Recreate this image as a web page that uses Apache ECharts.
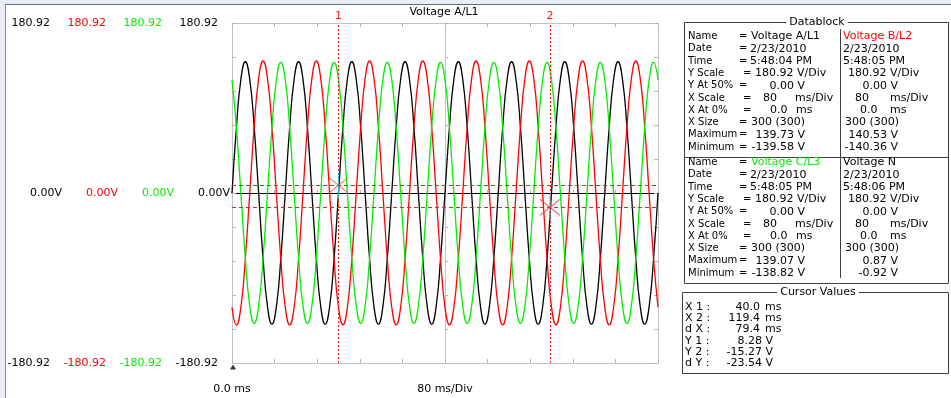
<!DOCTYPE html>
<html><head><meta charset="utf-8">
<script src="https://cdn.jsdelivr.net/npm/echarts@6/dist/echarts.min.js"></script>
<style>html,body{margin:0;padding:0;background:#fff;overflow:hidden}#c{width:951px;height:398px}</style>
</head><body><div id="c"></div>
<script>
// ---------------- data ----------------
const sampleStepMs = 160 / 96;           // spacing of the readings along the time axis
const voltageA = [
  0, 69.9, 121.0, 139.7, 121.0, 69.9, 0, -69.8, -120.9, -139.6, -120.9, -69.8,
  0, 69.9, 121.0, 139.7, 121.0, 69.9, 0, -69.8, -120.9, -139.6, -120.9, -69.8,
  0, 69.9, 121.0, 139.7, 121.0, 69.9, 0, -69.8, -120.9, -139.6, -120.9, -69.8,
  0, 69.9, 121.0, 139.7, 121.0, 69.9, 0, -69.8, -120.9, -139.6, -120.9, -69.8,
  0, 69.9, 121.0, 139.7, 121.0, 69.9, 0, -69.8, -120.9, -139.6, -120.9, -69.8,
  0, 69.9, 121.0, 139.7, 121.0, 69.9, 0, -69.8, -120.9, -139.6, -120.9, -69.8,
  0, 69.9, 121.0, 139.7, 121.0, 69.9, 0, -69.8, -120.9, -139.6, -120.9, -69.8,
  0, 69.9, 121.0, 139.7, 121.0, 69.9, 0, -69.8, -120.9, -139.6, -120.9, -69.8,
  0
];
const voltageB = [
  -121.6, -140.4, -121.6, -70.2, 0, 70.3, 121.7, 140.5, 121.7, 70.3, 0, -70.2,
  -121.6, -140.4, -121.6, -70.2, 0, 70.3, 121.7, 140.5, 121.7, 70.3, 0, -70.2,
  -121.6, -140.4, -121.6, -70.2, 0, 70.3, 121.7, 140.5, 121.7, 70.3, 0, -70.2,
  -121.6, -140.4, -121.6, -70.2, 0, 70.3, 121.7, 140.5, 121.7, 70.3, 0, -70.2,
  -121.6, -140.4, -121.6, -70.2, 0, 70.3, 121.7, 140.5, 121.7, 70.3, 0, -70.2,
  -121.6, -140.4, -121.6, -70.2, 0, 70.3, 121.7, 140.5, 121.7, 70.3, 0, -70.2,
  -121.6, -140.4, -121.6, -70.2, 0, 70.3, 121.7, 140.5, 121.7, 70.3, 0, -70.2,
  -121.6, -140.4, -121.6, -70.2, 0, 70.3, 121.7, 140.5, 121.7, 70.3, 0, -70.2,
  -121.6
];
const voltageC = [
  120.4, 69.5, 0, -69.4, -120.2, -138.8, -120.2, -69.4, 0, 69.5, 120.4, 139.1,
  120.4, 69.5, 0, -69.4, -120.2, -138.8, -120.2, -69.4, 0, 69.5, 120.4, 139.1,
  120.4, 69.5, 0, -69.4, -120.2, -138.8, -120.2, -69.4, 0, 69.5, 120.4, 139.1,
  120.4, 69.5, 0, -69.4, -120.2, -138.8, -120.2, -69.4, 0, 69.5, 120.4, 139.1,
  120.4, 69.5, 0, -69.4, -120.2, -138.8, -120.2, -69.4, 0, 69.5, 120.4, 139.1,
  120.4, 69.5, 0, -69.4, -120.2, -138.8, -120.2, -69.4, 0, 69.5, 120.4, 139.1,
  120.4, 69.5, 0, -69.4, -120.2, -138.8, -120.2, -69.4, 0, 69.5, 120.4, 139.1,
  120.4, 69.5, 0, -69.4, -120.2, -138.8, -120.2, -69.4, 0, 69.5, 120.4, 139.1,
  120.4
];
const yScaleV = 180.92;                  // V/Div, axis spans +/- one division
const xSpanMs = 160;                     // two divisions of 80 ms
const xDivMs = 80;
const xTickLabels = ['0.0 ms', '80 ms/Div', ''];
const yTickTop = ['180.92', '180.92', '180.92', '180.92'];
const yTickZero = ['0.00V', '0.00V', '0.00V', '0.00V'];
const yTickBottom = ['-180.92', '-180.92', '-180.92', '-180.92'];
const cursorX = [40.0, 119.4];
const cursorY = [8.28, -15.27];
const cursorNames = ['1', '2'];
const triggerAt = [0];

const dbRowLabels = ['Name', 'Date', 'Time', 'Y Scale', 'Y At 50%', 'X Scale', 'X At 0%', 'X Size', 'Maximum', 'Minimum'];
const dbNames = ['Voltage A/L1', 'Voltage B/L2', 'Voltage C/L3', 'Voltage N'];
const dbDates = ['2/23/2010', '2/23/2010', '2/23/2010', '2/23/2010'];
const dbTimes = ['5:48:04 PM', '5:48:05 PM', '5:48:05 PM', '5:48:06 PM'];
const dbYScale = ['180.92', '180.92', '180.92', '180.92'];
const dbYAt50 = ['0.00', '0.00', '0.00', '0.00'];
const dbXScale = ['80', '80', '80', '80'];
const dbXAt0 = ['0.0', '0.0', '0.0', '0.0'];
const dbXSize = ['300 (300)', '300 (300)', '300 (300)', '300 (300)'];
const dbMax = ['139.73', '140.53', '139.07', '0.87'];
const dbMin = ['-139.58', '-140.36', '-138.82', '-0.92'];

const cvLabels = ['X 1 :', 'X 2 :', 'd X :', 'Y 1 :', 'Y 2 :', 'd Y :'];
const cvValues = ['40.0', '119.4', '79.4', '8.28', '-15.27', '-23.54'];
const cvUnits = ['ms', 'ms', 'ms', 'V', 'V', 'V'];

// ---------------- styles / layout ----------------
const FONT = 'DejaVu Sans';
const FS = 11;
const fontStr = FS + 'px "' + FONT + '"';
const labelFontStr = '10px "' + FONT + '"';
const channelColors = ['#000000', '#ff0000', '#00ee00', '#000000'];
const gridBox = { left: 232, top: 23, width: 426, height: 340 };
const edgeColor = '#c4c4c4';
const tickColor = '#b4b4b4';
const cursorColor = '#ff1a1a';

function txt(text, x, y, color, align, extra) {
  return {
    type: 'text', silent: true, z: 10,
    style: Object.assign({
      text: text, x: x, y: y, fill: color || '#000', font: fontStr,
      align: align || 'left', verticalAlign: 'middle',
      textAlign: align || 'left', textVerticalAlign: 'middle'
    }, extra || {})
  };
}
function ln(x1, y1, x2, y2, color, w) {
  return { type: 'line', silent: true, z: 9, shape: { x1, y1, x2, y2 }, style: { stroke: color || '#404040', lineWidth: w || 1 } };
}

const graphics = [];
// window frame
graphics.push({ type: 'rect', silent: true, z: 8, shape: { x: 0, y: 0, width: 951, height: 4 }, style: { fill: '#e9edf6' } });
graphics.push({ type: 'rect', silent: true, z: 8, shape: { x: 0, y: 0, width: 5, height: 398 }, style: { fill: '#e9edf6' } });
graphics.push(ln(5, 4.5, 951, 4.5, '#6b6b6b'));
graphics.push(ln(5.5, 4, 5.5, 398, '#8a8a8a'));
// chart title
graphics.push(txt('Voltage A/L1', 444, 12, '#000', 'center'));

// Datablock panel
const dbLeft = 684.5, dbRight = 948.5, dbTop = 22.5, dbBottom = 283.5, dbSplitY = 157.5, dbColX = 840.5;
graphics.push({ type: 'rect', silent: true, z: 9, shape: { x: dbLeft, y: dbTop, width: dbRight - dbLeft, height: dbBottom - dbTop }, style: { fill: 'none', stroke: '#404040', lineWidth: 1 } });
graphics.push(ln(dbLeft, dbSplitY, dbRight, dbSplitY));
graphics.push(ln(dbColX, 29, dbColX, 278));
graphics.push(txt('Datablock', 817, 22, '#000', 'center', { backgroundColor: '#fff', padding: [0, 3] }));

const rowStep = 12.3;
const blockRowY = [36.5, 162.5];
const eqX = [739, 739, 739, 743, 739, 743, 743, 739, 739, 739];
const pos = {
  name: [751, 843], date: [750, 843], ys: [755, 848], ya: [805, 898],
  xs: [763, 855], xsu: [795, 890], xa: [770, 860], xau: [796, 890], xz: [751, 845], mm: [805, 898]
};
for (let ch = 0; ch < 4; ch++) {
  const b = Math.floor(ch / 2), L = ch % 2;
  const y0 = blockRowY[b];
  const Y = r => y0 + r * rowStep;
  if (L === 0) {
    dbRowLabels.forEach((l, r) => {
      graphics.push(txt(l, 688, Y(r), '#000', 'left', { font: labelFontStr }));
      graphics.push(txt('=', eqX[r], Y(r), '#000', 'left', { font: labelFontStr }));
    });
  }
  graphics.push(txt(dbNames[ch], pos.name[L], Y(0), channelColors[ch]));
  graphics.push(txt(dbDates[ch], pos.date[L], Y(1)));
  graphics.push(txt(dbTimes[ch], pos.date[L], Y(2)));
  graphics.push(txt(dbYScale[ch] + ' V/Div', pos.ys[L], Y(3)));
  graphics.push(txt(dbYAt50[ch] + ' V', pos.ya[L], Y(4), '#000', 'right'));
  graphics.push(txt(dbXScale[ch], pos.xs[L], Y(5)));
  graphics.push(txt('ms/Div', pos.xsu[L], Y(5)));
  graphics.push(txt(dbXAt0[ch], pos.xa[L], Y(6)));
  graphics.push(txt('ms', pos.xau[L], Y(6)));
  graphics.push(txt(dbXSize[ch], pos.xz[L], Y(7)));
  graphics.push(txt(dbMax[ch] + ' V', pos.mm[L], Y(8), '#000', 'right'));
  graphics.push(txt(dbMin[ch] + ' V', pos.mm[L], Y(9), '#000', 'right'));
}

// Cursor values panel
const cvLeft = 682.5, cvTop = 292.5, cvBottom = 373.5;
graphics.push({ type: 'rect', silent: true, z: 9, shape: { x: cvLeft, y: cvTop, width: dbRight - cvLeft, height: cvBottom - cvTop }, style: { fill: 'none', stroke: '#404040', lineWidth: 1 } });
graphics.push(txt('Cursor Values', 818, 292, '#000', 'center', { backgroundColor: '#fff', padding: [0, 3] }));
cvLabels.forEach((l, r) => {
  const y = 306.7 + r * 11.35;
  graphics.push(txt(l, 685, y));
  if (cvUnits[r] === 'ms') {
    graphics.push(txt(cvValues[r], 760, y, '#000', 'right'));
    graphics.push(txt(cvUnits[r], 765, y));
  } else {
    graphics.push(txt(cvValues[r] + ' ' + cvUnits[r], 773, y, '#000', 'right'));
  }
});

// ---------------- chart ----------------
const rich = {
  k: { color: '#000', width: 56, align: 'right', fontFamily: FONT, fontSize: FS },
  r: { color: channelColors[1], width: 56, align: 'right', fontFamily: FONT, fontSize: FS },
  g: { color: channelColors[2], width: 56, align: 'right', fontFamily: FONT, fontSize: FS },
  sp: { width: 12, align: 'right', fontSize: FS }
};
function yLabel(v) {
  const arr = v > 0 ? yTickTop : (v < 0 ? yTickBottom : yTickZero);
  const s = '{k|' + arr[0] + '}{r|' + arr[1] + '}{g|' + arr[2] + '}{k|' + arr[3] + '}';
  return v === 0 ? s : s + '{sp| }';
}

const edgeTick = { show: true, inside: true, length: 4, lineStyle: { color: tickColor } };
const edgeMinor = { show: true, splitNumber: 5, length: 4, lineStyle: { color: tickColor } };

const toPairs = arr => arr.map((v, i) => [i * sampleStepMs, v]);
const cursorPoints = cursorX.map((x, i) => [x, cursorY[i]]);

const vLines = cursorX.map((x, i) => [
  { coord: [x, -yScaleV], symbol: 'none' },
  { coord: [x, yScaleV], symbol: 'none',
    label: { show: true, position: 'end', distance: 1, formatter: cursorNames[i], color: cursorColor, fontFamily: FONT, fontSize: FS } }
]);
const hLines = cursorY.map(y => [
  { coord: [0, y], symbol: 'none' },
  { coord: [xSpanMs, y], symbol: 'none' }
]);

const option = {
  animation: false,
  backgroundColor: '#ffffff',
  textStyle: { fontFamily: FONT, fontSize: FS },
  grid: [
    Object.assign({ containLabel: false }, gridBox),
    Object.assign({ containLabel: false }, gridBox)
  ],
  xAxis: [
    { gridIndex: 0, type: 'value', min: 0, max: xSpanMs, interval: xDivMs, position: 'bottom',
      axisLine: { show: true, onZero: true, lineStyle: { color: '#000', width: 1 } },
      axisTick: { show: true, inside: true, length: 3, lineStyle: { color: tickColor } },
      minorTick: { show: true, splitNumber: 5, length: 3, lineStyle: { color: tickColor } },
      axisLabel: { show: false },
      splitLine: { show: true, lineStyle: { color: edgeColor, width: 1 } } },
    { gridIndex: 0, type: 'value', min: 0, max: xSpanMs, interval: xDivMs, position: 'bottom',
      axisLine: { show: true, onZero: false, lineStyle: { color: edgeColor } },
      axisTick: edgeTick, minorTick: edgeMinor,
      axisLabel: { show: true, margin: 21, color: '#000', fontFamily: FONT, fontSize: FS,
        showMinLabel: true, showMaxLabel: true,
        formatter: v => xTickLabels[Math.round(v / xDivMs)] },
      splitLine: { show: false } },
    { gridIndex: 0, type: 'value', min: 0, max: xSpanMs, interval: xDivMs, position: 'top',
      axisLine: { show: true, onZero: false, lineStyle: { color: edgeColor } },
      axisTick: edgeTick, minorTick: edgeMinor,
      axisLabel: { show: false }, splitLine: { show: false } },
    { gridIndex: 1, type: 'value', min: -xDivMs, max: xDivMs, show: false }
  ],
  yAxis: [
    { gridIndex: 0, type: 'value', min: -yScaleV, max: yScaleV, interval: yScaleV, position: 'left',
      axisLine: { show: true, onZero: false, lineStyle: { color: edgeColor } },
      axisTick: edgeTick, minorTick: edgeMinor,
      axisLabel: { show: true, margin: 2, formatter: yLabel, rich: rich, showMinLabel: true, showMaxLabel: true },
      splitLine: { show: false } },
    { gridIndex: 0, type: 'value', min: -yScaleV, max: yScaleV, interval: yScaleV, position: 'right',
      axisLine: { show: true, onZero: false, lineStyle: { color: edgeColor } },
      axisTick: edgeTick, minorTick: edgeMinor,
      axisLabel: { show: false }, splitLine: { show: false } },
    { gridIndex: 1, type: 'value', min: -yScaleV, max: yScaleV, interval: yScaleV,
      axisLine: { show: true, onZero: true, lineStyle: { color: edgeColor } },
      axisTick: { show: true, inside: true, length: 3, lineStyle: { color: tickColor } },
      minorTick: { show: true, splitNumber: 5, length: 3, lineStyle: { color: tickColor } },
      axisLabel: { show: false }, splitLine: { show: false } }
  ],
  series: [
    { type: 'line', name: 'Voltage A/L1', data: toPairs(voltageA), xAxisIndex: 0, yAxisIndex: 0,
      showSymbol: false, symbol: 'none', smooth: true, silent: true, z: 3,
      lineStyle: { color: channelColors[0], width: 1.3 } },
    { type: 'line', name: 'Voltage B/L2', data: toPairs(voltageB), xAxisIndex: 0, yAxisIndex: 0,
      showSymbol: false, symbol: 'none', smooth: true, silent: true, z: 3,
      lineStyle: { color: channelColors[1], width: 1.3 } },
    { type: 'line', name: 'Voltage C/L3', data: toPairs(voltageC), xAxisIndex: 0, yAxisIndex: 0,
      showSymbol: false, symbol: 'none', smooth: true, silent: true, z: 3,
      lineStyle: { color: channelColors[2], width: 1.3 } },
    // X cursors (vertical, dotted)
    { type: 'line', data: [], xAxisIndex: 0, yAxisIndex: 0, silent: true, z: 7,
      color: cursorColor, itemStyle: { color: cursorColor },
      markLine: {
        silent: true, symbol: 'none', animation: false,
        lineStyle: { color: cursorColor, width: 1, type: [2, 2], opacity: 1 },
        label: { show: false },
        data: vLines
      } },
    // Y cursors (horizontal, dashed)
    { type: 'line', data: [], xAxisIndex: 0, yAxisIndex: 0, silent: true, z: 7,
      color: cursorColor, itemStyle: { color: cursorColor },
      markLine: {
        silent: true, symbol: 'none', animation: false,
        lineStyle: { color: cursorColor, width: 1, type: [4, 3], opacity: 1 },
        label: { show: false },
        data: hLines
      } },
    { type: 'scatter', data: cursorPoints, xAxisIndex: 0, yAxisIndex: 0,
      symbol: 'rect', symbolSize: [1, 26], silent: true, z: 5,
      itemStyle: { color: '#19d9e6' } },
    { type: 'scatter', data: cursorPoints, xAxisIndex: 0, yAxisIndex: 0,
      symbol: 'path://M0,0L20,16M0,16L20,0', symbolSize: [20, 16], silent: true, z: 6,
      itemStyle: { color: 'none', borderColor: '#ff3030', borderWidth: 1 } },
    { type: 'scatter', data: triggerAt.map(t => [t, -yScaleV]), xAxisIndex: 0, yAxisIndex: 0,
      symbol: 'triangle', symbolSize: [6, 5], symbolOffset: [1, 4], clip: false, silent: true, z: 6,
      itemStyle: { color: '#000' } }
  ],
  graphic: { elements: graphics }
};

const chart = echarts.init(document.getElementById('c'), null, { renderer: 'canvas' });
chart.setOption(option);
</script>
</body></html>
